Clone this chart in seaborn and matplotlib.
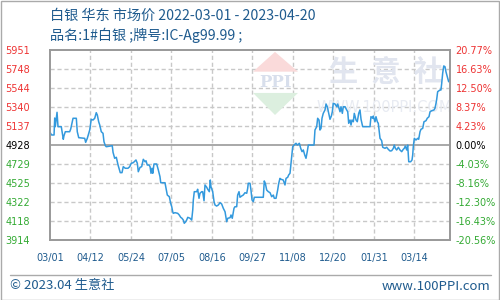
import numpy as np
import pandas as pd
import matplotlib
matplotlib.use("Agg")
import matplotlib.pyplot as plt
from matplotlib.patches import Polygon, Rectangle
import seaborn as sns

# ---------------- data ----------------
title = "白银 华东 市场价 2022-03-01 - 2023-04-20"
subtitle = "品名:1#白银 ;牌号:IC-Ag99.99 ;"
footer_left = "© 2023.04 生意社"
footer_right = "www.100PPI.com"
start_date = "2022-03-01"
end_date = "2023-04-20"

day_offsets = [
    0, 1.6, 4.2, 4.9, 5.5, 7.3, 8.3, 11.7, 12.8, 13.8, 14.5, 15.9, 20.4, 21.5, 23.9, 27.3,
    28.3, 29.8, 36.0, 37.0, 38.7, 41.2, 42.8, 44.6, 46.4, 48.0, 49.1, 50.5, 51.6, 53.2,
    55.0, 56.0, 57.4, 58.4, 64.6, 65.4, 67.1, 68.8, 70.6, 71.6, 72.9, 74.7, 76.0, 78.1,
    80.9, 82.7, 84.3, 86.4, 89.2, 90.6, 91.6, 93.4, 95.1, 96.8, 98.6, 99.6, 100.9, 102.7,
    103.8, 104.8, 105.8, 106.6, 107.9, 110.7, 112.4, 114.1, 114.9, 119.3, 120.4, 121.7,
    123.8, 125.2, 126.3, 127.3, 127.9, 129.7, 132.5, 134.1, 135.6, 136.9, 138.3, 139.3,
    140.8, 141.8, 142.9, 145.3, 147.0, 148.1, 148.7, 149.7, 152.2, 153.2, 154.6, 155.6,
    157.4, 158.4, 159.8, 160.8, 162.6, 163.6, 165.3, 166.3, 167.0, 168.8, 170.2, 171.2,
    172.9, 174.6, 176.4, 178.1, 179.8, 181.6, 183.3, 184.4, 186.8, 187.8, 189.1, 190.9,
    191.9, 193.7, 194.7, 196.1, 197.1, 198.9, 200.5, 202.3, 204.1, 205.1, 205.7, 207.5,
    208.5, 209.6, 210.9, 212.0, 221.3, 222.3, 223.4, 224.8, 226.5, 228.3, 230.0, 231.7,
    232.7, 234.5, 236.2, 237.3, 238.6, 239.7, 242.0, 243.8, 244.9, 246.6, 247.6, 249.0,
    250.0, 251.1, 251.8, 253.2, 255.2, 256.6, 258.7, 260.1, 261.5, 262.8, 264.3, 265.6,
    266.9, 268.0, 273.9, 274.9, 276.7, 277.7, 279.1, 280.1, 281.2, 282.2, 283.5, 285.3,
    286.4, 287.7, 289.2, 290.5, 291.9, 292.9, 293.9, 295.7, 297.5, 298.5, 299.8, 300.9,
    301.9, 303.3, 304.3, 306.1, 307.8, 308.9, 309.9, 311.3, 312.3, 313.3, 314.7, 315.7,
    317.5, 318.8, 320.3, 321.6, 322.7, 324.4, 332.0, 333.0, 334.8, 335.4, 337.2, 338.2,
    339.6, 340.6, 341.6, 342.4, 344.1, 345.2, 347.6, 349.3, 351.0, 352.8, 354.5, 356.2,
    357.2, 358.3, 359.7, 361.4, 363.1, 364.9, 366.5, 367.6, 368.6, 370.1, 371.1, 372.2,
    374.2, 375.6, 376.3, 376.9, 378.0, 379.7, 381.5, 382.5, 383.9, 384.9, 386.7, 388.0,
    390.1, 391.4, 393.2, 394.3, 396.0, 398.4, 399.4, 400.5, 401.2, 402.2, 404.6, 405.6,
    406.4, 407.4, 408.5, 409.8, 410.8, 412.2, 413.6, 415.0,
]
prices = [
    5069, 5040, 5040, 5222, 5129, 5283, 5129, 5129, 5061, 4994, 5032, 5075, 5075, 5104, 5219, 5219,
    5075, 5011, 5004, 4961, 5004, 5093, 5208, 5200, 5219, 5279, 5254, 5182, 5147, 5075,
    5058, 4968, 4925, 4914, 4925, 4854, 4790, 4801, 4718, 4683, 4636, 4636, 4700, 4683,
    4683, 4700, 4736, 4743, 4772, 4736, 4646, 4693, 4700, 4779, 4753, 4764, 4718, 4718,
    4700, 4629, 4683, 4629, 4729, 4729, 4664, 4593, 4528, 4528, 4468, 4396,
    4378, 4307, 4271, 4217, 4200, 4207, 4200, 4182, 4157, 4147, 4128, 4093,
    4110, 4128, 4157, 4147, 4128, 4236, 4343, 4432, 4432, 4458, 4361, 4415,
    4432, 4432, 4335, 4504, 4479, 4458, 4432, 4557, 4485, 4432, 4325, 4289,
    4278, 4289, 4314, 4300, 4254, 4217, 4110, 4147, 4153, 4182, 4147, 4254,
    4271, 4271, 4396, 4432, 4372, 4386, 4396, 4421, 4415, 4468, 4522, 4522,
    4450, 4343, 4325, 4372, 4372, 4547, 4522, 4450, 4432, 4421, 4378, 4396,
    4361, 4361, 4450, 4522, 4575, 4565, 4557, 4504, 4575, 4586, 4611, 4629,
    4736, 4843, 4914, 4932, 4951, 4932, 4951, 4897, 4861, 4879, 4825, 4790,
    4861, 4932, 4932, 5093, 5129, 5219, 5200, 5093, 5111, 5219, 5272, 5308,
    5372, 5343, 5272, 5208, 5243, 5289, 5380, 5372, 5343, 5372, 5326, 5289,
    5343, 5272, 5343, 5343, 5308, 5289, 5165, 5200, 5147, 5200, 5182, 5272,
    5200, 5182, 5272, 5308, 5208, 5129, 5129, 5236, 5219, 5243, 5182, 5236,
    5182, 5165, 5075, 5004, 4979, 4908, 4897, 4908, 4886, 4868, 4871, 4897,
    4932, 4897, 4879, 4908, 4879, 4861, 4886, 4897, 4922, 4879, 4932, 4753,
    4753, 4772, 4825, 4914, 5004, 4986, 5004, 4994, 5075, 5101, 5111, 5182,
    5193, 5219, 5236, 5289, 5300, 5308, 5326, 5380, 5422, 5504, 5522, 5522,
    5594, 5701, 5780, 5772, 5718, 5665, 5611, 5637,
]
x_tick_labels = ["03/01", "04/12", "05/24", "07/05", "08/16",
                 "09/27", "11/08", "12/20", "01/31", "03/14"]
y_tick_labels = ["3914", "4118", "4322", "4525", "4729", "4928",
                 "5137", "5340", "5544", "5748", "5951"]
pct_tick_labels = ["-20.56%", "-16.43%", "-12.30%", "-8.16%", "-4.03%", "0.00%",
                   "4.23%", "8.37%", "12.50%", "16.63%", "20.77%"]

# ---------------- style ----------------
sns.set_style("white")
plt.rcParams["font.family"] = ["Noto Sans CJK SC", "DejaVu Sans"]

W, H = 500, 300
fig = plt.figure(figsize=(W / 100, H / 100), dpi=100)
ax = fig.add_axes([50 / W, 60 / H, 400 / W, 190 / H])

start = pd.Timestamp(start_date)
end = pd.Timestamp(end_date)
dates = start + pd.to_timedelta(day_offsets, unit="D")
df = pd.DataFrame({"date": dates, "price": prices})

title_blue = "#1f5b8e"
red = "#ee3333"
green = "#33aa33"
grid_c = "#c8c8c8"
frame_c = "#999999"

ymin, ymax = 3914, 5951
yt = np.linspace(ymin, ymax, 11)
xt = [start + pd.Timedelta(days=42 * i) for i in range(len(x_tick_labels))]

# grid
for t in yt[1:-1]:
    if abs(t - yt[5]) < 1e-6:
        continue
    ax.axhline(t, color=grid_c, lw=1, ls=(0, (3, 2)), zorder=1)
for t in xt[1:]:
    ax.axvline(t, color=grid_c, lw=1, ls=(0, (3, 2)), zorder=1)
ax.axhline(yt[5], color=frame_c, lw=1.2, zorder=2)

# watermark (axes coords)
wm = dict(transform=ax.transAxes, zorder=1.5, clip_on=True)
ax.add_patch(Polygon([[0.5625, 0.99], [0.62, 0.886], [0.5075, 0.886]], closed=True,
                     color="#fadada", lw=0, **wm))
ax.add_patch(Polygon([[0.5075, 0.774], [0.62, 0.774], [0.5625, 0.658]], closed=True,
                     color="#dcefdf", lw=0, **wm))
ax.text(0.5625, 0.83, "PPI", ha="center", va="center", fontsize=12, fontweight="bold",
        family="DejaVu Serif", color="#d8dfec", **wm)
ax.text(0.84, 0.885, "生  意  社", ha="center", va="center", fontsize=21, fontweight="bold",
        color="#e1e5ef", **wm)
ax.text(0.835, 0.70, "WWW.100PPI.COM", ha="center", va="center", fontsize=10.5,
        family="DejaVu Sans", color="#e8ebf2", **wm)

sns.lineplot(data=df, x="date", y="price", ax=ax, color="#3399dd", lw=1.1,
             zorder=3, legend=False)

ax.set_xlim(start, end)
ax.set_ylim(ymin, ymax)
ax.set_xlabel("")
ax.set_ylabel("")
ax.set_xticks(xt)
ax.set_xticklabels(x_tick_labels, fontsize=7, color=title_blue, family="DejaVu Sans")
ax.set_yticks(yt)
ax.set_yticklabels(y_tick_labels, fontsize=7, family="DejaVu Sans")
ax.tick_params(axis="both", length=0)
ax.tick_params(axis="x", pad=9)
for lab in ax.get_yticklabels():
    lab.set_horizontalalignment("left")
ax.yaxis.set_tick_params(pad=32)


def colour(i):
    return green if i < 5 else ("black" if i == 5 else red)


for i, lab in enumerate(ax.get_yticklabels()):
    lab.set_color(colour(i))

ax2 = ax.twinx()
ax2.set_ylim(ymin, ymax)
ax2.set_yticks(yt)
ax2.set_yticklabels(pct_tick_labels, fontsize=7, family="DejaVu Sans")
ax2.tick_params(axis="y", length=0, pad=4)
for i, lab in enumerate(ax2.get_yticklabels()):
    lab.set_color(colour(i))

for a in (ax, ax2):
    for s in a.spines.values():
        s.set_color(frame_c)
        s.set_linewidth(1.2)

# titles
fig.text(50 / W, 1 - 16 / H, title, fontsize=10.2, color=title_blue, ha="left", va="center")
fig.text(50 / W, 1 - 35 / H, subtitle, fontsize=10.2, color=title_blue, ha="left", va="center")

# footer
fig.add_artist(plt.Line2D([10 / W, 491 / W], [1 - 275 / H, 1 - 275 / H],
                          color="#aaaaaa", lw=1, transform=fig.transFigure))
fig.text(10 / W, 1 - 286 / H, footer_left, fontsize=9.5, color=title_blue,
         ha="left", va="center")
fig.text(490 / W, 1 - 286 / H, footer_right, fontsize=9.5, color=title_blue,
         ha="right", va="center")

# outer frame
fig.add_artist(Rectangle((0.5 / W, 0.5 / H), 1 - 1.5 / W, 1 - 1.5 / H, fill=False,
                         edgecolor="#aaaaaa", lw=1, transform=fig.transFigure))

fig.savefig("out.png", dpi=100)
